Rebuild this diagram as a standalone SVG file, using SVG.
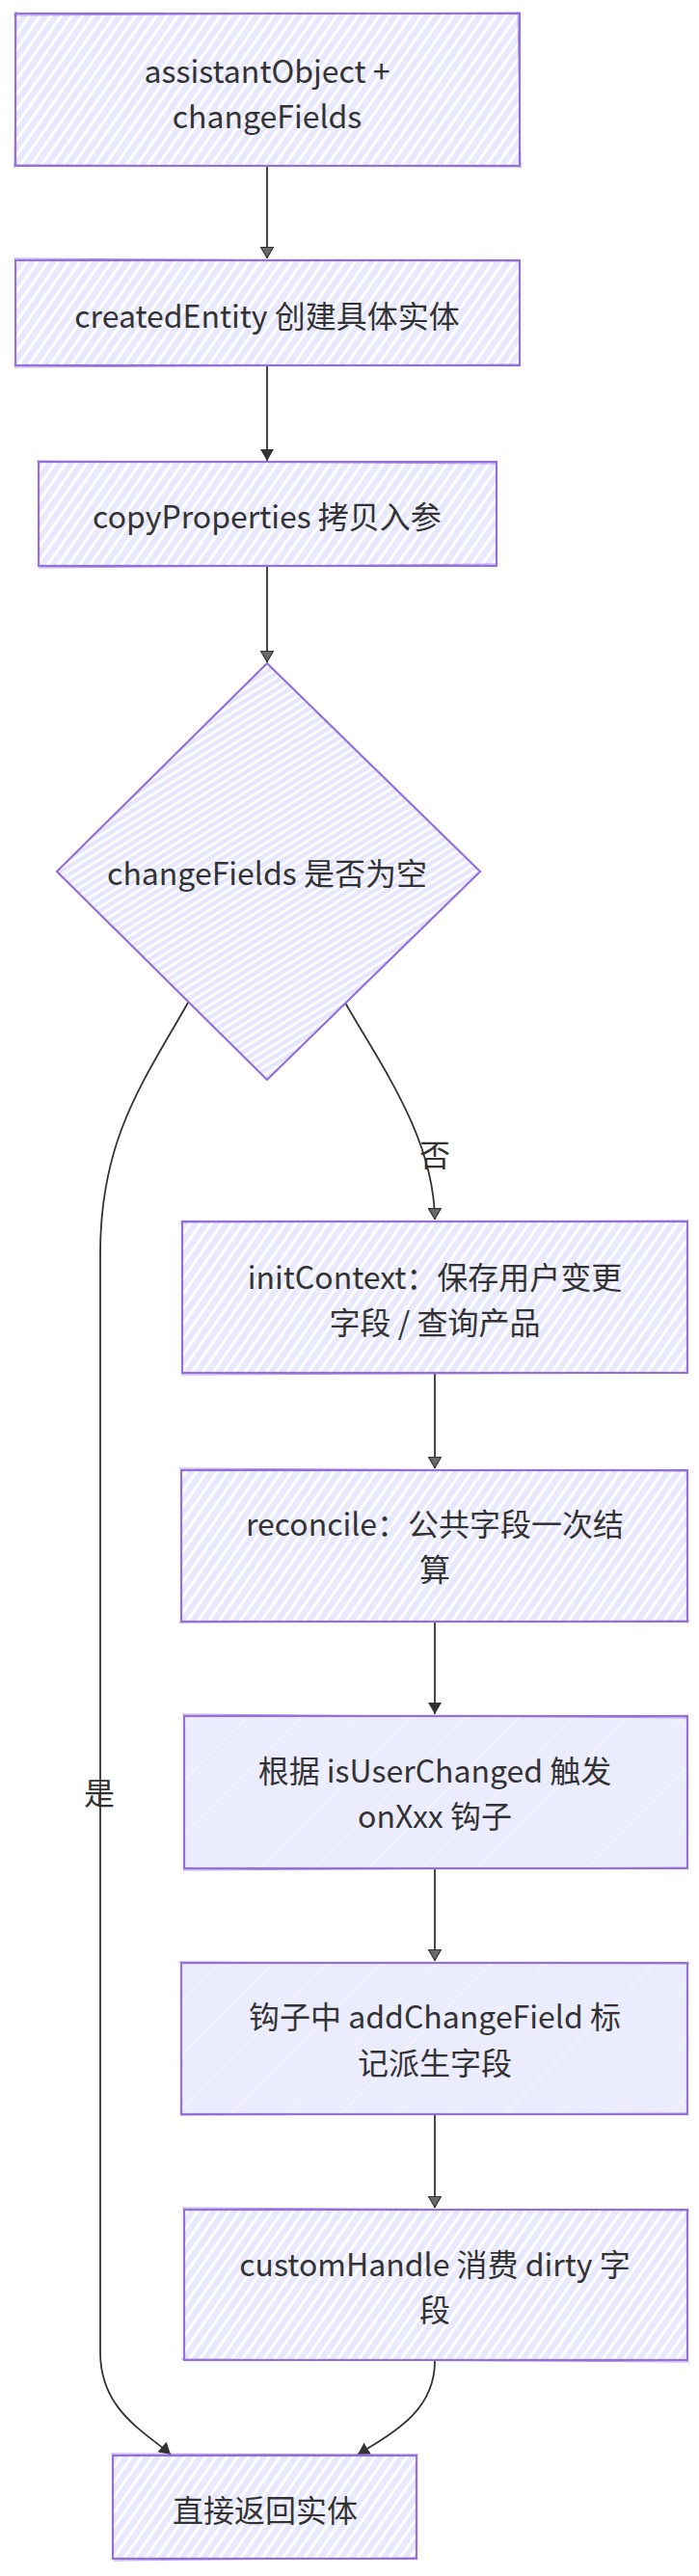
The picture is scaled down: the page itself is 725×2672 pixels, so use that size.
<svg xmlns="http://www.w3.org/2000/svg" width="725" height="2672" viewBox="0 0 725 2672">
<defs>
<pattern id="hatchR" patternUnits="userSpaceOnUse" width="9" height="9" patternTransform="rotate(35)">
<rect width="9" height="9" fill="#ffffff"/>
<rect x="0" y="0" width="6" height="9" fill="#E8E8FE"/>
</pattern>
<pattern id="hatchLight" patternUnits="userSpaceOnUse" width="40" height="40" patternTransform="rotate(45)">
<rect width="40" height="40" fill="#ECECFF"/>
<line x1="0" y1="0" x2="0" y2="40" stroke="#ffffff" stroke-width="1.5" stroke-opacity="0.8"/>
</pattern>
<pattern id="hatchD" patternUnits="userSpaceOnUse" width="7" height="7" patternTransform="rotate(58)">
<rect width="7" height="7" fill="#ffffff"/>
<rect x="0" y="0" width="4.5" height="7" fill="#E6E6FE"/>
</pattern>
<marker id="arrow" viewBox="0 0 12 14" refX="12" refY="7" markerUnits="userSpaceOnUse" markerWidth="12" markerHeight="14" orient="auto">
<path d="M0,0 L12,7 L0,14 z" fill="#333333"/>
</marker>
<marker id="arrowh" viewBox="0 0 12 14" refX="12" refY="7" markerUnits="userSpaceOnUse" markerWidth="12" markerHeight="14" orient="auto">
<path d="M0.5,0.5 L11.5,7 L0.5,13.5 z" fill="#6a6a6a" stroke="#333333" stroke-width="1.2"/>
</marker>
<style>
.node rect, .node polygon { stroke: #9370DB; stroke-width: 2.2; }
.sk { fill: none; stroke: #9370DB; stroke-width: 1; stroke-opacity: 0.7; }
.lbl { font-family: "Noto Sans CJK SC", "Noto Sans", sans-serif; font-size: 32px; fill: #333333; text-anchor: middle; dominant-baseline: central; }
.edge { fill: none; stroke: #333333; stroke-width: 1.8; }
</style>
</defs>

<g id="connectors">
<path class="edge" d="M277,173 L277,268" marker-end="url(#arrowh)"/>
<path class="edge" d="M277,380 L277,478" marker-end="url(#arrow)"/>
<path class="edge" d="M277,588 L277,687" marker-end="url(#arrowh)"/>
<path class="edge" d="M195,1040 C150,1120 104,1180 104,1300 L104,2440 C104,2500 150,2522 177,2546" marker-end="url(#arrow)"/>
<path class="edge" d="M358,1040 C395,1105 450,1180 451,1265" marker-end="url(#arrowh)"/>
<path class="edge" d="M451,1425 L451,1523" marker-end="url(#arrowh)"/>
<path class="edge" d="M451,1683 L451,1778" marker-end="url(#arrow)"/>
<path class="edge" d="M451,1939 L451,2034" marker-end="url(#arrowh)"/>
<path class="edge" d="M451,2194 L451,2290" marker-end="url(#arrowh)"/>
<path class="edge" d="M451,2449 C451,2500 410,2522 371,2546" marker-end="url(#arrow)"/>
<text class="lbl" x="451" y="1196">否</text>
<text class="lbl" x="103" y="1858">是</text>
</g>

<g id="n1" class="node">
<rect x="16" y="14" width="523" height="158" fill="url(#hatchR)"/>
<path class="sk" d="M14,16 L540,13 M17,12 L15,174 M537,12 L540,174 M14,171 L540,173"/>
<text class="lbl" x="277" y="72">assistantObject +</text>
<text class="lbl" x="277" y="119">changeFields</text>
</g>

<g id="n2" class="node">
<rect x="16" y="270" width="523" height="109" fill="url(#hatchR)"/>
<path class="sk" d="M14,268 L540,271 M15,381 L539,378"/>
<text class="lbl" x="277" y="326">createdEntity 创建具体实体</text>
</g>

<g id="n3" class="node">
<rect x="40" y="479" width="475" height="108" fill="url(#hatchR)"/>
<path class="sk" d="M38,478 L516,481 M40,589 L515,585"/>
<text class="lbl" x="277" y="534">copyProperties 拷贝入参</text>
</g>

<g id="n4" class="node">
<polygon points="277,688 498,904 277,1120 59,904" fill="url(#hatchD)"/>
<text class="lbl" x="277" y="904">changeFields 是否为空</text>
</g>

<g id="n5" class="node">
<rect x="189" y="1267" width="524" height="157" fill="url(#hatchR)"/>
<path class="sk" d="M187,1268 L714,1266 M188,1426 L714,1424"/>
<text class="lbl" x="451" y="1323">initContext：保存用户变更</text>
<text class="lbl" x="451" y="1370">字段 / 查询产品</text>
</g>

<g id="n6" class="node">
<rect x="188" y="1525" width="525" height="157" fill="url(#hatchR)"/>
<path class="sk" d="M186,1523 L714,1526 M186,1683 L715,1681"/>
<text class="lbl" x="451" y="1579">reconcile：公共字段一次结</text>
<text class="lbl" x="451" y="1626">算</text>
</g>

<g id="n7" class="node">
<rect x="191" y="1780" width="522" height="158" fill="url(#hatchLight)"/>
<path class="sk" d="M189,1778 L714,1782 M190,1940 L714,1937"/>
<text class="lbl" x="451" y="1835">根据 isUserChanged 触发</text>
<text class="lbl" x="451" y="1882">onXxx 钩子</text>
</g>

<g id="n8" class="node">
<rect x="188" y="2036" width="525" height="157" fill="url(#hatchLight)"/>
<path class="sk" d="M186,2035 L715,2037 M187,2194 L714,2192"/>
<text class="lbl" x="451" y="2090">钩子中 addChangeField 标</text>
<text class="lbl" x="451" y="2138">记派生字段</text>
</g>

<g id="n9" class="node">
<rect x="191" y="2292" width="522" height="156" fill="url(#hatchR)"/>
<path class="sk" d="M189,2290 L715,2293 M188,2447 L715,2450"/>
<text class="lbl" x="451" y="2347">customHandle 消费 dirty 字</text>
<text class="lbl" x="451" y="2394">段</text>
</g>

<g id="n10" class="node">
<rect x="117" y="2547" width="315" height="107" fill="url(#hatchR)"/>
<path class="sk" d="M115,2545 L434,2546 M118,2656 L433,2653"/>
<text class="lbl" x="275" y="2602">直接返回实体</text>
</g>
</svg>
